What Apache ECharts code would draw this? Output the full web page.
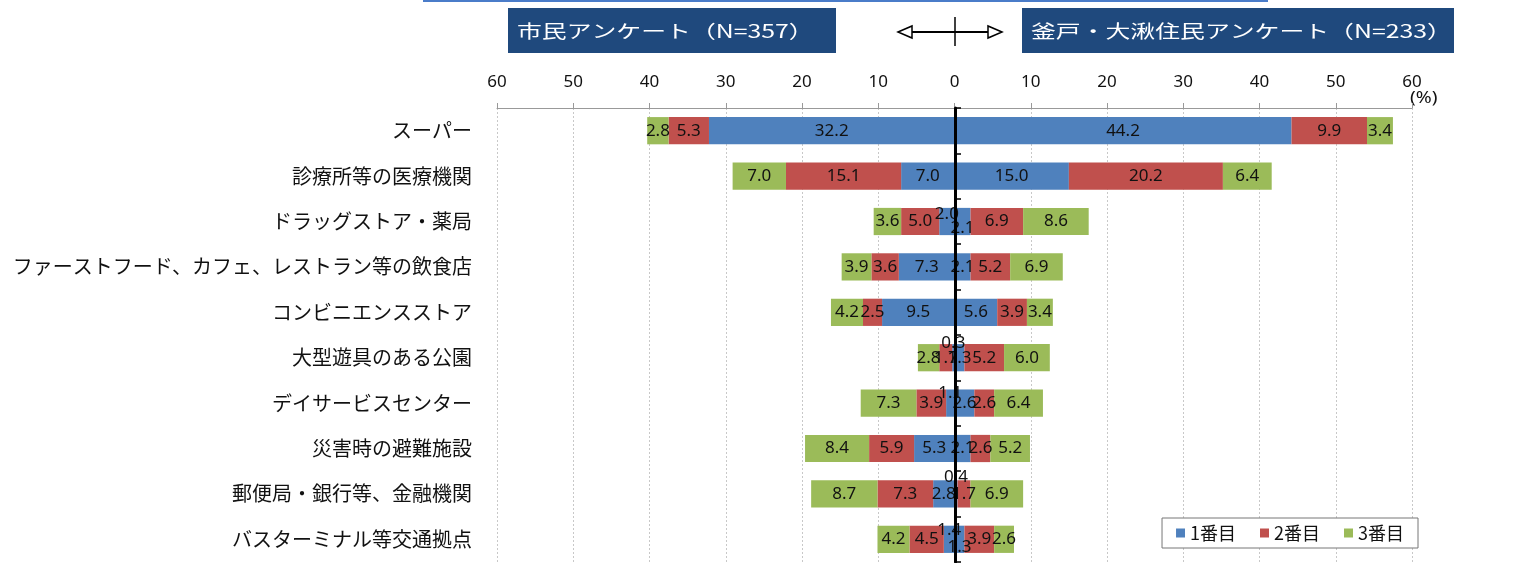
<!DOCTYPE html>
<html lang="ja">
<head>
<meta charset="UTF-8">
<title>利用施設</title>
<style>
html, body { margin: 0; padding: 0; background: #fff; }
#chart { width: 1525px; height: 563px; }
</style>
</head>
<body>
<div id="chart"></div>
<script src="https://cdn.jsdelivr.net/npm/echarts@6/dist/echarts.min.js"></script>
<script>
// カテゴリ（上から順）
var categories = [
  'スーパー', '診療所等の医療機関', 'ドラッグストア・薬局',
  'ファーストフード、カフェ、レストラン等の飲食店', 'コンビニエンスストア',
  '大型遊具のある公園', 'デイサービスセンター', '災害時の避難施設',
  '郵便局・銀行等、金融機関', 'バスターミナル等交通拠点'
];
var rankNames = ['1番目', '2番目', '3番目'];

// 市民アンケート（N=357）
var city1 = [32.2, 7.0, 2.0, 7.3, 9.5, 0.3, 1.1, 5.3, 2.8, 1.4];
var city2 = [5.3, 15.1, 5.0, 3.6, 2.5, 1.7, 3.9, 5.9, 7.3, 4.5];
var city3 = [2.8, 7.0, 3.6, 3.9, 4.2, 2.8, 7.3, 8.4, 8.7, 4.2];
// 釜戸・大湫住民アンケート（N=233）
var local1 = [44.2, 15.0, 2.1, 2.1, 5.6, 1.3, 2.6, 2.1, 0.4, 1.3];
var local2 = [9.9, 20.2, 6.9, 5.2, 3.9, 5.2, 2.6, 2.6, 1.7, 3.9];
var local3 = [3.4, 6.4, 8.6, 6.9, 3.4, 6.0, 6.4, 5.2, 6.9, 2.6];

var colors = ['#4F81BD', '#C0504D', '#9BBB59'];

// 小さい値のラベルをずらす（系列:行番号 -> [dx, dy]）
var labelShift = {
  'L0:2': [0, -7], 'R0:2': [0, 7],
  'L0:5': [0, -15],
  'L0:6': [0, -10],
  'R0:8': [0, -17],
  'L0:9': [0, -9], 'R0:9': [0, 8]
};

function makeSeries(key, rank, values, sign) {
  return {
    name: rankNames[rank],
    type: 'bar',
    stack: 'all',
    yAxisIndex: 0,
    barCategoryGap: '40%',
    itemStyle: { color: colors[rank] },
    label: {
      show: true,
      position: 'inside',
      color: '#111',
      fontSize: 17,
      fontFamily: 'Noto Sans',
      formatter: function (p) { return Math.abs(p.value).toFixed(1); }
    },
    data: values.map(function (v, i) {
      var d = { value: sign * v };
      var s = labelShift[key + ':' + i];
      if (s) d.label = { offset: s };
      return d;
    })
  };
}

var series = [
  makeSeries('L0', 0, city1, -1),
  makeSeries('L1', 1, city2, -1),
  makeSeries('L2', 2, city3, -1),
  makeSeries('R0', 0, local1, 1),
  makeSeries('R1', 1, local2, 1),
  makeSeries('R2', 2, local3, 1)
];

var chart = echarts.init(document.getElementById('chart'));
chart.setOption({
  animation: false,
  textStyle: { fontFamily: 'Noto Sans CJK JP' },
  grid: { left: 497, right: 113, top: 108, bottom: 1 },
  legend: {
    data: rankNames,
    right: 107,
    bottom: 15,
    itemWidth: 9,
    itemHeight: 9,
    itemGap: 24,
    padding: [6, 14],
    borderColor: '#777',
    borderWidth: 1,
    backgroundColor: '#fff',
    icon: 'rect',
    textStyle: { fontSize: 18, color: '#111', fontFamily: 'Noto Sans CJK JP' }
  },
  xAxis: {
    type: 'value',
    position: 'top',
    min: -60,
    max: 60,
    interval: 10,
    axisLine: { show: true, lineStyle: { color: '#999' } },
    axisTick: { show: true, length: 5, lineStyle: { color: '#999' } },
    axisLabel: {
      margin: 17,
      fontSize: 17,
      color: '#111',
      fontFamily: 'Noto Sans',
      formatter: function (v) { return Math.abs(v); }
    },
    splitLine: { show: true, lineStyle: { color: '#c8c8c8', type: [2, 2] } }
  },
  yAxis: [{
    type: 'category',
    inverse: true,
    data: categories,
    axisLine: { show: false },
    axisTick: { show: false },
    axisLabel: { margin: 25, fontSize: 20, color: '#111' }
  }, {
    // 0の位置の縦軸線（棒の上に描く）
    type: 'category',
    inverse: true,
    position: 'left',
    offset: -458,
    z: 10,
    data: categories,
    axisLine: { show: true, onZero: false, lineStyle: { color: '#000', width: 3 } },
    axisTick: { show: true, inside: true, length: 6, lineStyle: { color: '#000', width: 1.5 } },
    axisLabel: { show: false }
  }],
  series: series,
  graphic: [
    { type: 'rect', left: 423, top: 0, shape: { width: 845, height: 2 }, style: { fill: '#4A7CC9' } },
    { type: 'rect', left: 508, top: 8, shape: { width: 328, height: 45 }, style: { fill: '#1F497D' } },
    { type: 'text', x: 517, y: 22, scaleX: 1.38, style: { text: '市民アンケート（N=357）', fill: '#fff', fontSize: 18, fontFamily: 'Noto Sans CJK JP' } },
    { type: 'rect', left: 1022, top: 8, shape: { width: 432, height: 45 }, style: { fill: '#1F497D' } },
    { type: 'text', x: 1031, y: 22, scaleX: 1.38, style: { text: '釜戸・大湫住民アンケート（N=233）', fill: '#fff', fontSize: 18, fontFamily: 'Noto Sans CJK JP' } },
    { type: 'line', shape: { x1: 910, y1: 32, x2: 990, y2: 32 }, style: { stroke: '#000', lineWidth: 2 } },
    { type: 'line', shape: { x1: 955, y1: 17, x2: 955, y2: 46 }, style: { stroke: '#000', lineWidth: 1.5 } },
    { type: 'polygon', shape: { points: [[898, 32], [912, 26], [912, 38]] }, style: { fill: '#fff', stroke: '#000', lineWidth: 1.5 } },
    { type: 'polygon', shape: { points: [[1002, 32], [988, 26], [988, 38]] }, style: { fill: '#fff', stroke: '#000', lineWidth: 1.5 } },
    { type: 'text', x: 1410, y: 90, scaleX: 1.2, style: { text: '(%)', fill: '#111', fontSize: 16, fontFamily: 'Noto Sans' } }
  ]
});
</script>
</body>
</html>
